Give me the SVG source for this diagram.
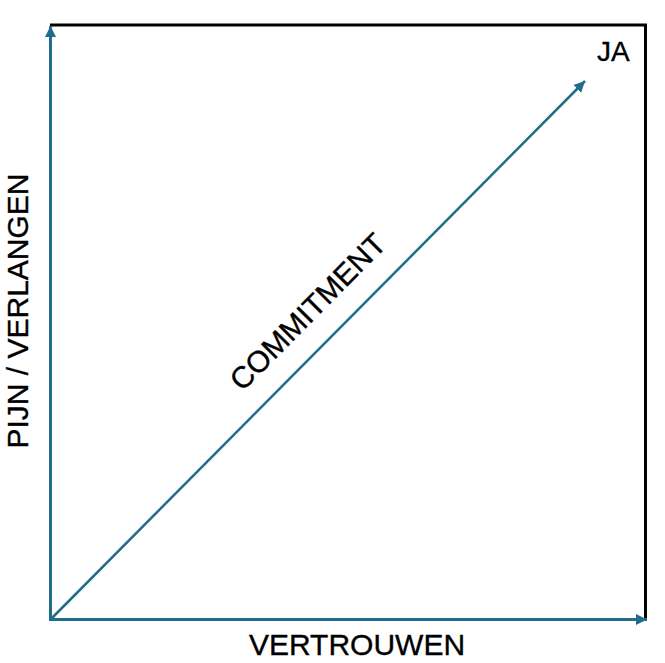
<svg xmlns="http://www.w3.org/2000/svg" width="665" height="663" viewBox="0 0 665 663">
  <style>
    .axis { stroke: #216c8b; stroke-width: 3; fill: none; }
    .diag { stroke: #216c8b; stroke-width: 2.5; fill: none; }
    .frame { stroke: #000; stroke-width: 3; fill: none; }
    .lbl { font-family: "Liberation Sans", Arial, sans-serif; font-size: 30px; fill: #000; stroke: #000; stroke-width: 0.35; }
  </style>
  <defs>
    <marker id="arr" markerUnits="userSpaceOnUse" markerWidth="12" markerHeight="12" viewBox="0 0 12 12" refX="11" refY="6" orient="auto">
      <path d="M0,0.5 L11,6 L0,11.5 Z" fill="#216c8b"/>
    </marker>
  </defs>
  <rect width="665" height="663" fill="#fff"/>
  <g id="frame">
    <polyline class="frame" points="50,25 645.5,25 645.5,620"/>
  </g>
  <g id="connectors">
    <line class="axis" x1="50.5" y1="621" x2="50.5" y2="26" marker-end="url(#arr)"/>
    <line class="axis" x1="49" y1="619.5" x2="647" y2="619.5" marker-end="url(#arr)"/>
    <line class="diag" x1="50.5" y1="619.5" x2="585" y2="81" marker-end="url(#arr)"/>
  </g>
  <g id="label-ja"><text class="lbl" x="597" y="61" style="font-size:28px">JA</text></g>
  <g id="label-x"><text class="lbl" x="357" y="655" text-anchor="middle">VERTROUWEN</text></g>
  <g id="label-y"><text class="lbl" transform="translate(28,311) rotate(-90)" text-anchor="middle">PIJN / VERLANGEN</text></g>
  <g id="label-commitment"><text class="lbl" transform="translate(315,319) rotate(-45.2)" text-anchor="middle">COMMITMENT</text></g>
</svg>
